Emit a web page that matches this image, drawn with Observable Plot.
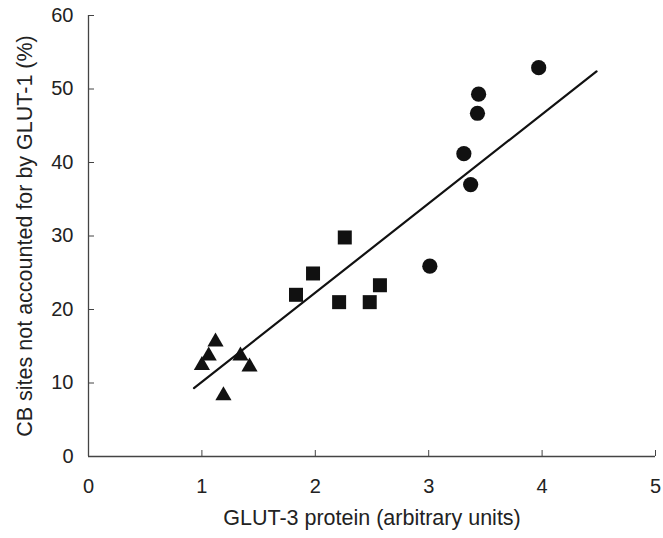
<!DOCTYPE html>
<html><head><meta charset="utf-8">
<script src="https://cdn.jsdelivr.net/npm/d3@7"></script>
<script src="https://cdn.jsdelivr.net/npm/@observablehq/plot@0.6"></script>
<style>
body{margin:0;background:#fff;}
#chart{width:663px;height:538px;}
</style>
</head><body><div id="chart"></div>
<script>
const triX = [1.0, 1.06, 1.12, 1.19, 1.34, 1.42];
const triY = [12.4, 13.7, 15.6, 8.3, 13.7, 12.2];
const sqX = [1.83, 1.98, 2.26, 2.21, 2.48, 2.57];
const sqY = [22.0, 24.9, 29.8, 21.0, 21.0, 23.3];
const ciX = [3.01, 3.31, 3.37, 3.43, 3.44, 3.97];
const ciY = [25.9, 41.2, 37.0, 46.7, 49.3, 52.9];
const fitX = [0.93, 4.48];
const fitY = [9.3, 52.4];
const xTicks = [0, 1, 2, 3, 4, 5];
const yTicks = [0, 10, 20, 30, 40, 50, 60];

const tri = triX.map((x, i) => ({x, y: triY[i]}));
const sq = sqX.map((x, i) => ({x, y: sqY[i]}));
const ci = ciX.map((x, i) => ({x, y: ciY[i]}));
const fit = fitX.map((x, i) => ({x, y: fitY[i]}));

const FS = 20;
const TS = 21.5;
const chart = Plot.plot({
  width: 663, height: 538,
  marginLeft: 88, marginRight: 8, marginTop: 15, marginBottom: 82,
  style: {fontFamily: "'Liberation Sans', Arial, sans-serif", fontSize: FS + "px", color: "#222", background: "#fff"},
  x: {domain: [0, 5]},
  y: {domain: [0, 60]},
  marks: [
    Plot.axisX({ticks: xTicks, tickFormat: d3.format("d"), tickSize: -6, tickPadding: 28, stroke: "#444", fill: "#222", fontSize: FS, label: null}),
    Plot.axisY({ticks: yTicks, tickFormat: d3.format("d"), tickSize: -6, tickPadding: 21, stroke: "#444", fill: "#222", fontSize: FS, label: null}),
    Plot.ruleY([0], {stroke: "#444", strokeWidth: 1.3}),
    Plot.ruleX([0], {stroke: "#444", strokeWidth: 1.3}),
    Plot.line(fit, {x: "x", y: "y", stroke: "#111", strokeWidth: 2.2}),
    Plot.dot(tri, {x: "x", y: "y", symbol: "triangle", r: 6, fill: "#111", stroke: "none"}),
    Plot.dot(sq, {x: "x", y: "y", symbol: "square", r: 7.9, fill: "#111", stroke: "none"}),
    Plot.dot(ci, {x: "x", y: "y", symbol: "circle", r: 7.6, fill: "#111", stroke: "none"}),
    Plot.text(["GLUT-3 protein (arbitrary units)"], {frameAnchor: "bottom", dy: 68, fontSize: TS, fill: "#222"}),
    Plot.text(["CB sites not accounted for by GLUT-1 (%)"], {frameAnchor: "left", textAnchor: "middle", dx: -63, rotate: -90, fontSize: TS, fill: "#222"})
  ]
});
document.getElementById("chart").appendChild(chart);
</script>
</body></html>
